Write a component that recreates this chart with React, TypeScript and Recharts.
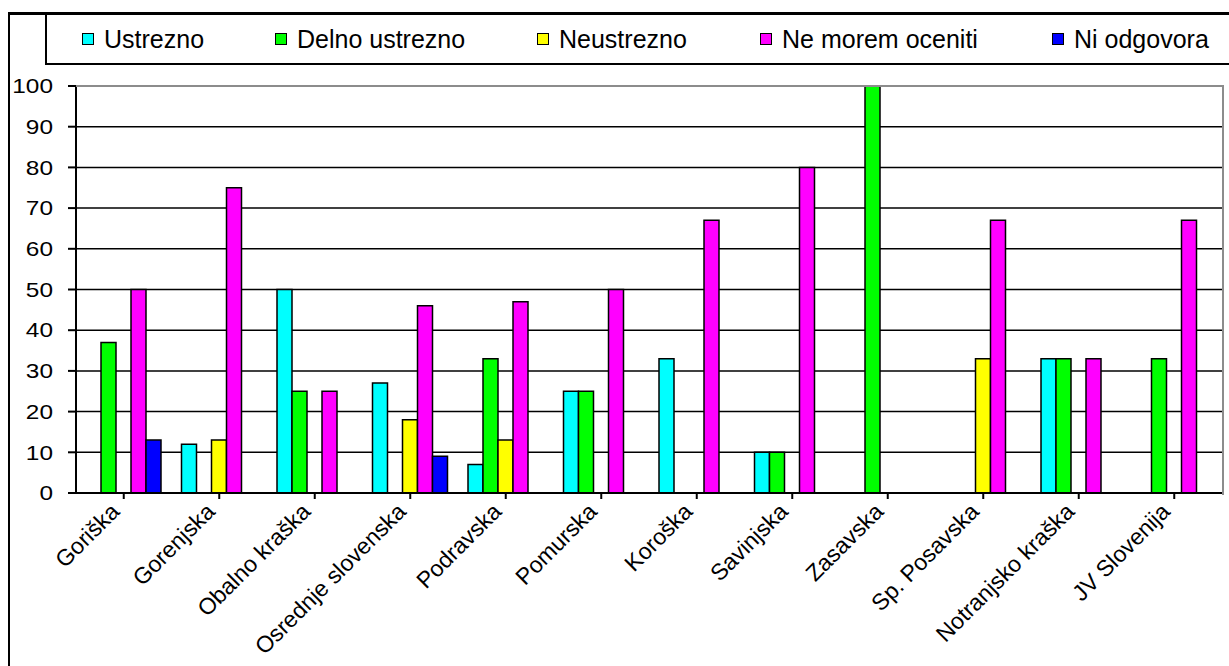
import { BarChart, Bar, XAxis, YAxis, CartesianGrid } from 'recharts';

const categories = [
  'Goriška',
  'Gorenjska',
  'Obalno kraška',
  'Osrednje slovenska',
  'Podravska',
  'Pomurska',
  'Koroška',
  'Savinjska',
  'Zasavska',
  'Sp. Posavska',
  'Notranjsko kraška',
  'JV Slovenija',
];

const ustrezno = [null, 12, 50, 27, 7, 25, 33, 10, null, null, 33, null];
const delnoUstrezno = [37, null, 25, null, 33, 25, null, 10, 100, null, 33, 33];
const neustrezno = [null, 13, null, 18, 13, null, null, null, null, 33, null, null];
const neMoremOceniti = [50, 75, 25, 46, 47, 50, 67, 80, null, 67, 33, 67];
const niOdgovora = [13, null, null, 9, null, null, null, null, null, null, null, null];

const yTicks = [0, 10, 20, 30, 40, 50, 60, 70, 80, 90, 100];

const series = [
  { key: 'ustrezno', name: 'Ustrezno', color: '#00FFFF', values: ustrezno },
  { key: 'delno', name: 'Delno ustrezno', color: '#00FF00', values: delnoUstrezno },
  { key: 'neustrezno', name: 'Neustrezno', color: '#FFFF00', values: neustrezno },
  { key: 'neMorem', name: 'Ne morem oceniti', color: '#FF00FF', values: neMoremOceniti },
  { key: 'ni', name: 'Ni odgovora', color: '#0000FF', values: niOdgovora },
];

// where each legend entry starts (its swatch), left to right
const legendX = [82, 275, 537, 760, 1052];

const data = categories.map((name, i) => {
  const row: Record<string, string | number | null> = { name };
  series.forEach((s) => {
    row[s.key] = s.values[i];
  });
  return row;
});

const FONT = '"Liberation Sans", Arial, sans-serif';

const CategoryTick = ({ x, y, payload }: any) => {
  const ax = x - 3;
  const ay = y + 12;
  return (
    <text
      x={ax}
      y={ay}
      textAnchor="end"
      fontSize={23}
      fontFamily={FONT}
      fill="#000"
      transform={`rotate(-45, ${ax}, ${ay})`}
    >
      {payload.value}
    </text>
  );
};

const ValueTick = ({ x, y, payload }: any) => (
  <text
    x={0}
    y={0}
    dy="0.36em"
    textAnchor="end"
    fontSize={20}
    fontFamily={FONT}
    fill="#000"
    transform={`translate(${x}, ${y}) scale(1.22, 1)`}
  >
    {payload.value}
  </text>
);

export default function App() {
  return (
    <div
      style={{
        position: 'absolute',
        left: 0,
        top: 0,
        width: 1229,
        height: 666,
        overflow: 'hidden',
        background: '#fff',
        fontFamily: FONT,
      }}
    >
      {/* outer chart frame, right/bottom edges are off-picture */}
      <div
        style={{
          position: 'absolute',
          left: 8,
          top: 12,
          width: 1400,
          height: 800,
          borderLeft: '2px solid #000',
          borderTop: '3px solid #000',
        }}
      />
      {/* legend box */}
      <div
        style={{
          position: 'absolute',
          left: 45,
          top: 12,
          width: 1400,
          height: 48,
          border: '2px solid #000',
          borderTopWidth: 3,
          fontSize: 25,
          whiteSpace: 'nowrap',
          boxSizing: 'content-box',
        }}
      >
        {series.map((s, i) => (
          <div
            key={s.key}
            style={{
              position: 'absolute',
              left: legendX[i] - 47,
              top: 0,
              height: 48,
              display: 'flex',
              alignItems: 'center',
            }}
          >
            <div
              style={{
                width: 10,
                height: 10,
                background: s.color,
                border: '1.5px solid #000',
                marginRight: 10,
              }}
            />
            <span>{s.name}</span>
          </div>
        ))}
      </div>
      <div style={{ position: 'absolute', left: 0, top: 0 }}>
        <BarChart
          width={1229}
          height={666}
          data={data}
          margin={{ top: 86, right: 7, bottom: 0, left: 0 }}
          barCategoryGap={10}
          barGap={0}
        >
          <CartesianGrid vertical={false} stroke="#000" strokeWidth={1.5} />
          <XAxis
            dataKey="name"
            interval={0}
            height={173}
            tickSize={6}
            tickMargin={2}
            axisLine={{ stroke: '#000', strokeWidth: 2 }}
            tickLine={{ stroke: '#000', strokeWidth: 2 }}
            tick={<CategoryTick />}
          />
          <YAxis
            width={76}
            domain={[0, 100]}
            ticks={yTicks}
            interval={0}
            tickSize={8}
            tickMargin={15}
            axisLine={{ stroke: '#000', strokeWidth: 2 }}
            tickLine={{ stroke: '#000', strokeWidth: 2 }}
            tick={<ValueTick />}
          />
          {series.map((s) => (
            <Bar
              key={s.key}
              dataKey={s.key}
              name={s.name}
              fill={s.color}
              stroke="#000"
              strokeWidth={1.5}
              isAnimationActive={false}
            />
          ))}
        </BarChart>
      </div>
      {/* grey plot-area border on top and right */}
      <div
        style={{
          position: 'absolute',
          left: 76,
          top: 85,
          width: 1146,
          height: 408,
          borderTop: '2px solid #8c8c8c',
          borderRight: '2px solid #8c8c8c',
          pointerEvents: 'none',
        }}
      />
    </div>
  );
}
